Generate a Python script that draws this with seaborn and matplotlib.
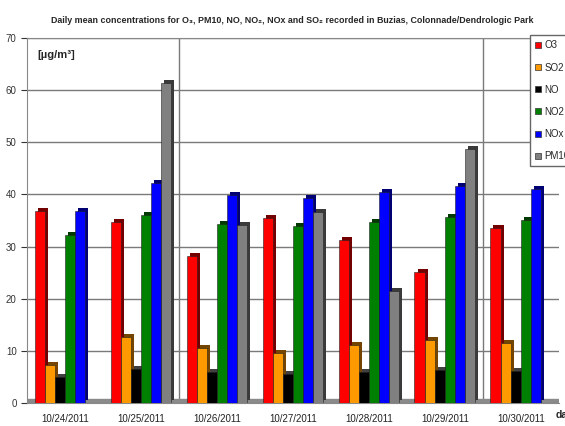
import numpy as np
import pandas as pd
import seaborn as sns
import matplotlib.pyplot as plt
import matplotlib.patheffects as pe
from matplotlib.colors import to_rgb
from matplotlib.lines import Line2D

# daily means (ug/m3), PM10 missing on first and last day
dates = ['10/24/2011', '10/25/2011', '10/26/2011', '10/27/2011',
         '10/28/2011', '10/29/2011', '10/30/2011']
pollutants = ['O3', 'SO2', 'NO', 'NO2', 'NOx', 'PM10']
o3 = [36.8, 34.7, 28.2, 35.5, 31.3, 25.1, 33.6]
so2 = [7.3, 12.7, 10.5, 9.6, 11.1, 12.1, 11.5]
no = [5.0, 6.5, 5.9, 5.6, 5.9, 6.3, 6.1]
no2 = [32.2, 36.1, 34.3, 34.0, 34.7, 35.7, 35.1]
nox = [36.8, 42.2, 39.9, 39.3, 40.5, 41.6, 41.0]
pm10 = [np.nan, 61.4, 34.1, 36.6, 21.5, 48.7, np.nan]
colors = ['#ff0000', '#ff9900', '#000000', '#008000', '#0000ff', '#808080']

rows = []
for name, vals in zip(pollutants, [o3, so2, no, no2, nox, pm10]):
    for d, v in zip(dates, vals):
        rows.append({'date': d, 'pollutant': name, 'value': v})
df = pd.DataFrame(rows)

sns.set_style('white')
plt.rcParams['font.family'] = ['Liberation Sans', 'DejaVu Sans']

fig = plt.figure(figsize=(5.65, 4.26), dpi=100)
ax = fig.add_axes([0.048, 0.054, 0.941, 0.857])

sns.barplot(data=df, x='date', y='value', hue='pollutant', order=dates,
            hue_order=pollutants, palette=colors, width=0.8, saturation=1,
            linewidth=0.4, edgecolor='#222222', legend=False, ax=ax, zorder=3)

# fake 3d look: darker shadow on the top/right of each bar
for cont, c in zip(ax.containers, colors):
    dark = tuple(0.45 * x for x in to_rgb(c)) if c != '#000000' else (0.25, 0.25, 0.25)
    for p in cont.patches:
        p.set_path_effects([pe.SimplePatchShadow(offset=(2.2, 2.2), shadow_rgbFace=dark, alpha=1),
                            pe.Normal()])

# grey floor
ax.axhspan(0, 0.8, color='#8a8a8a', zorder=1)

ax.set_ylim(0, 70)
ax.set_xlim(-0.5, len(dates) - 0.5)
ax.set_yticks(range(0, 71, 10))
ax.yaxis.grid(True, color='#7a7a7a', linewidth=1.0)
ax.set_axisbelow(True)
for xb in [1.5, 5.5]:
    ax.axvline(xb, color='#7a7a7a', linewidth=1.0, zorder=0.5)

ax.set_xticks(np.arange(-0.5, len(dates), 1), minor=True)
ax.tick_params(axis='x', which='major', length=0, labelsize=7, colors='#222222', pad=8)
ax.tick_params(axis='x', which='minor', length=4, color='#555555', direction='out')
ax.tick_params(axis='y', length=4, labelsize=7, colors='#333333', direction='out', left=True)
ax.set_xlabel('')
ax.set_ylabel('')

for s in ['left', 'bottom', 'top']:
    ax.spines[s].set_color('#888888')
    ax.spines[s].set_linewidth(0.8)
ax.spines['right'].set_visible(False)

ax.text(0.02, 0.967, '[µg/m³]', transform=ax.transAxes, fontsize=8,
        fontweight='bold', ha='left', va='top')

fig.text(0.517, 0.953, 'Daily mean concentrations for O₃, PM10, NO, NO₂, NOx and SO₂ '
         'recorded in Buzias, Colonnade/Dendrologic Park',
         ha='center', va='center', fontsize=6.4, fontweight='bold')
fig.text(0.983, 0.026, 'day', ha='left', va='center', fontsize=7.5, fontweight='bold')

handles = [Line2D([], [], marker='s', linestyle='', markersize=5,
                  markerfacecolor=c, markeredgecolor='#333333', markeredgewidth=0.5)
           for c in colors]
fig.legend(handles, pollutants, loc='upper left', bbox_to_anchor=(530 / 565, 1 - 35 / 426),
           bbox_transform=fig.transFigure, fontsize=7, frameon=True, fancybox=False,
           edgecolor='#666666', framealpha=1, handlelength=0.6, handletextpad=0.3,
           labelspacing=1.25, borderpad=0.55, borderaxespad=0)

fig.savefig('out.png', dpi=100)
